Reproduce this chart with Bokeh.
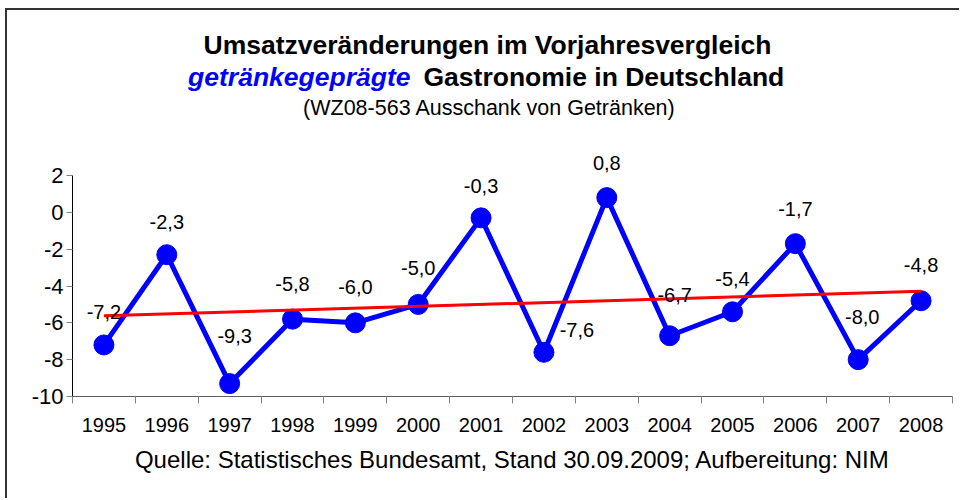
import numpy as np
from bokeh.plotting import figure
from bokeh.models import Label, LabelSet, ColumnDataSource, FixedTicker, Title
from bokeh.core.properties import value
from bokeh.embed import file_html
from bokeh.resources import INLINE

# ---- data ----
years = [1995, 1996, 1997, 1998, 1999, 2000, 2001, 2002, 2003, 2004, 2005, 2006, 2007, 2008]
values = [-7.2, -2.3, -9.3, -5.8, -6.0, -5.0, -0.3, -7.6, 0.8, -6.7, -5.4, -1.7, -8.0, -4.8]
year_labels = [str(y) for y in years]
y_ticks = [-10, -8, -6, -4, -2, 0, 2]
y_tick_labels = ["-10", "-8", "-6", "-4", "-2", "0", "2"]

title1 = "Umsatzveränderungen im Vorjahresvergleich"
title2a = "getränkegeprägte"
title2b = "Gastronomie in Deutschland"
title3 = "(WZ08-563 Ausschank von Getränken)"
footer = "Quelle: Statistisches Bundesamt, Stand 30.09.2009; Aufbereitung: NIM"

# data-label nudges in pixels (styling only)
lab_dx = [0, 0, 5, 0, 0, 0, 0, 33, 0, 5, 0, 0, 4, 0]
lab_dy = [33, 33, 48, 35, 36, 36, 32, 22, 35, 41, 33, 35, 43, 36]

FONT = "Liberation Sans"

# the frame extends up into the title area; the value axis is bounded to -10..2
p = figure(width=954, height=490, output_backend="svg", toolbar_location=None,
           x_range=(years[0] - 0.5, years[-1] + 0.5), y_range=(-10, 10.96),
           min_border_left=65, min_border_right=9, min_border_top=0, min_border_bottom=104,
           title=None)
p.styles = {"border-left": "2px solid #333333", "border-top": "2px solid #333333",
            "margin-left": "5px", "margin-top": "8px"}
p.xgrid.visible = False
p.ygrid.visible = False
p.outline_line_color = None

# x axis: labels at category centres, ticks between categories
p.xaxis.ticker = FixedTicker(ticks=years, minor_ticks=[y - 0.5 for y in years] + [years[-1] + 0.5])
p.xaxis.major_label_overrides = {y: l for y, l in zip(years, year_labels)}
p.xaxis.major_tick_out = 0
p.xaxis.major_tick_in = 0
p.xaxis.minor_tick_out = 7
p.xaxis.minor_tick_in = 0
p.xaxis.minor_tick_line_color = "#808080"
p.xaxis.axis_line_color = "#606060"
p.xaxis.major_label_text_font = FONT
p.xaxis.major_label_text_font_size = "20px"
p.xaxis.major_label_text_color = "black"
p.xaxis.major_label_standoff = 14

# y axis
p.yaxis.ticker = FixedTicker(ticks=y_ticks)
p.yaxis.bounds = (y_ticks[0], y_ticks[-1])
p.yaxis.major_label_overrides = {t: l for t, l in zip(y_ticks, y_tick_labels)}
p.yaxis.major_tick_out = 6
p.yaxis.major_tick_in = 0
p.yaxis.minor_tick_out = 0
p.yaxis.minor_tick_in = 0
p.yaxis.major_tick_line_color = "#808080"
p.yaxis.axis_line_color = "black"
p.yaxis.major_label_text_font = FONT
p.yaxis.major_label_text_font_size = "22px"
p.yaxis.major_label_text_color = "black"
p.yaxis.major_label_standoff = 3

# series
p.line(years, values, line_width=5, line_color="#0000FF")
p.scatter(years, values, size=20, fill_color="#0000FF", line_color="#0000FF")

# linear trend (spreadsheet-style trendline)
idx = np.arange(len(values))
k, d = np.polyfit(idx, values, 1)
trend = [k * i + d for i in idx]
p.line([years[0], years[-1]], [trend[0], trend[-1]], line_width=3, line_color="#FF0000")

# data labels
src = ColumnDataSource(dict(
    x=years, y=values,
    t=[f"{v:.1f}".replace(".", ",") for v in values],
    dx=lab_dx, dy=lab_dy))
p.add_layout(LabelSet(x="x", y="y", text="t", source=src, x_offset="dx", y_offset="dy",
                      text_align="center", text_baseline="middle",
                      text_font=value(FONT), text_font_size=value("20px"),
                      text_color="black"))

# title lines (screen units relative to plot frame)
def lab(x, y, text, size, style="normal", color="black", align="center"):
    p.add_layout(Label(x=x, y=y, x_units="screen", y_units="screen", text=text,
                       text_font=FONT, text_font_size=size, text_font_style=style,
                       text_color=color, text_align=align, text_baseline="alphabetic"))

lab(415, 352, title1, "26.5px", "bold")
lab(338, 320, title2a, "26.5px", "bold italic", "#0000FF", "right")
lab(351, 320, title2b, "26.5px", "bold", "black", "left")
lab(417, 289, title3, "21.5px")

# footer below the axis
p.add_layout(Title(text=footer, align="center", offset=8, text_font=FONT,
                   text_font_size="24px", text_font_style="normal",
                   text_color="black", standoff=18), "below")

open("out.html", "w").write(file_html(p, INLINE))
